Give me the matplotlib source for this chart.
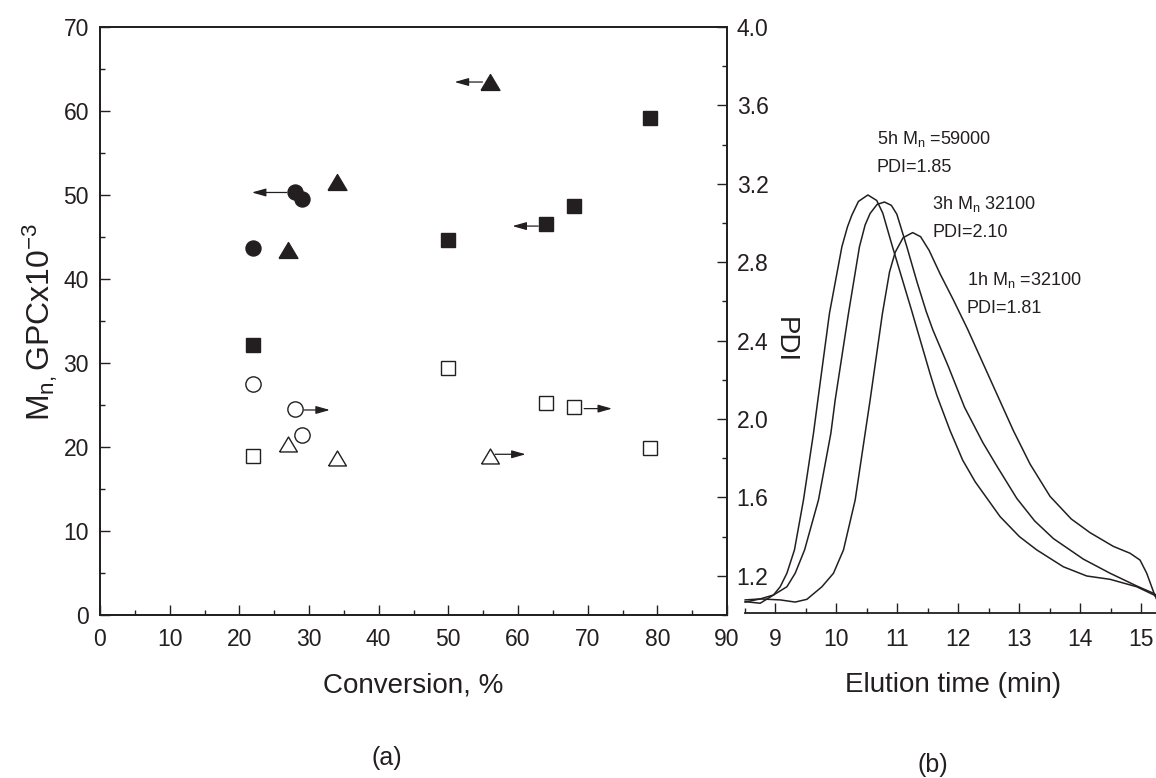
import numpy as np
import matplotlib
matplotlib.use("Agg")
import matplotlib.pyplot as plt
from matplotlib.ticker import MultipleLocator, FixedLocator, FormatStrFormatter

plt.rcParams["font.family"] = ["Liberation Sans", "DejaVu Sans"]
plt.rcParams["mathtext.fontset"] = "custom"
plt.rcParams["mathtext.rm"] = "Liberation Sans"
plt.rcParams["mathtext.it"] = "Liberation Sans:italic"
plt.rcParams["mathtext.bf"] = "Liberation Sans:bold"

# ---------------- data: panel (a) ----------------
conv_sq = [22, 50, 64, 68, 79]
mn_sq = [32.1, 44.6, 46.5, 48.7, 59.2]
pdi_sq = [1.81, 2.26, 2.08, 2.06, 1.85]

conv_ci = [22, 28, 29]
mn_ci = [43.7, 50.3, 49.5]
pdi_ci = [2.18, 2.05, 1.92]

conv_tr = [27, 34, 56]
mn_tr = [43.4, 51.5, 63.5]
pdi_tr = [1.87, 1.80, 1.81]

# arrows (tail x, head x, y) : left axis (Mn) and right axis (PDI)
arrow_mn_tail = [26.8, 54.9, 62.9]
arrow_mn_head = [21.8, 50.9, 59.2]
arrow_mn_y = [50.3, 63.45, 46.3]
arrow_pdi_tail = [29.3, 56.7, 69.5]
arrow_pdi_head = [33.0, 61.1, 73.5]
arrow_pdi_y = [2.046, 1.82, 2.053]

conv_ticks = list(range(0, 91, 10))
mn_ticks = list(range(0, 71, 10))
pdi_ticks = [1.2, 1.6, 2.0, 2.4, 2.8, 3.2, 3.6, 4.0]

# ---------------- data: panel (b) GPC traces ----------------
t_5h = [8.503, 8.749, 8.967, 9.077, 9.187, 9.311, 9.459, 9.623, 9.695, 9.885,
        10.089, 10.18, 10.252, 10.36, 10.515, 10.66, 10.76, 10.908, 11.236,
        11.32, 11.536, 11.646, 11.864, 12.07, 12.274, 12.683, 13.0, 13.285,
        13.721, 14.105, 14.487, 14.925, 15.208, 15.25]
s_5h = [1.068, 1.060, 1.102, 1.144, 1.213, 1.332, 1.587, 1.927, 2.097, 2.539,
        2.879, 2.98, 3.04, 3.11, 3.143, 3.115, 3.05, 2.89, 2.55,
        2.46, 2.23, 2.12, 1.94, 1.79, 1.68, 1.502, 1.40, 1.332,
        1.246, 1.199, 1.182, 1.144, 1.102, 1.09]

t_3h = [8.503, 8.749, 8.967, 9.187, 9.323, 9.477, 9.705, 9.908, 9.979, 10.197,
        10.377, 10.47, 10.552, 10.667, 10.787, 10.90, 10.99, 11.154, 11.32,
        11.47, 11.58, 11.836, 12.10, 12.40, 12.63, 12.957, 13.25, 13.557,
        14.049, 14.487, 14.925, 15.197, 15.25]
s_3h = [1.066, 1.082, 1.102, 1.144, 1.213, 1.332, 1.587, 1.927, 2.097, 2.539,
        2.879, 2.99, 3.049, 3.095, 3.107, 3.09, 3.045, 2.879, 2.70,
        2.55, 2.455, 2.267, 2.06, 1.88, 1.76, 1.595, 1.48, 1.39,
        1.285, 1.213, 1.148, 1.111, 1.10]

t_1h = [8.503, 8.749, 9.077, 9.323, 9.515, 9.761, 9.951, 10.115, 10.307, 10.470,
        10.552, 10.754, 10.87, 10.962, 11.093, 11.25, 11.38, 11.52, 11.70,
        11.918, 12.148, 12.438, 12.728, 12.902, 13.175, 13.503, 13.85, 14.159,
        14.541, 14.815, 14.979, 15.088, 15.208, 15.25]
s_1h = [1.077, 1.082, 1.077, 1.066, 1.080, 1.144, 1.213, 1.332, 1.587, 1.927,
        2.097, 2.539, 2.75, 2.85, 2.925, 2.951, 2.93, 2.86, 2.74,
        2.607, 2.46, 2.26, 2.06, 1.94, 1.77, 1.605, 1.49, 1.42,
        1.35, 1.315, 1.28, 1.213, 1.111, 1.08]

elution_ticks = [9, 10, 11, 12, 13, 14, 15]

# annotation texts
ann_5h = ["5h M$_\\mathrm{n}$ =59000", "PDI=1.85"]
ann_3h = ["3h M$_\\mathrm{n}$ 32100", "PDI=2.10"]
ann_1h = ["1h M$_\\mathrm{n}$ =32100", "PDI=1.81"]

# ---------------- figure ----------------
W, H = 1156, 778
fig = plt.figure(figsize=(W / 100, H / 100), dpi=100)
ink = "#231f20"

def fx(px):
    return px / W

def fy(py):
    return (H - py) / H

ax = fig.add_axes([fx(100), fy(615), (727 - 100) / W, (615 - 27) / H])
ax.set_xlim(0, 90)
ax.set_ylim(0, 70)
ax2 = ax.twinx()
ax2.set_ylim(1.0, 4.0)

for a in (ax, ax2):
    for sp in a.spines.values():
        sp.set_linewidth(1.3)
        sp.set_color(ink)

ax.xaxis.set_major_locator(FixedLocator(conv_ticks))
ax.xaxis.set_minor_locator(MultipleLocator(5))
ax.yaxis.set_major_locator(FixedLocator(mn_ticks))
ax.yaxis.set_minor_locator(MultipleLocator(5))
ax.tick_params(which="both", direction="in", top=False, right=False,
               colors=ink, labelsize=16.5, width=1.0)
ax.tick_params(which="major", length=7)
ax.tick_params(which="minor", length=3.5)
ax.tick_params(axis="x", which="both", pad=9)
ax.tick_params(axis="y", which="both", pad=8)

ax2.yaxis.set_major_locator(FixedLocator(pdi_ticks))
ax2.yaxis.set_minor_locator(MultipleLocator(0.2))
ax2.yaxis.set_major_formatter(FormatStrFormatter("%.1f"))
ax2.tick_params(which="both", direction="in", colors=ink, labelsize=16.5,
                width=1.0, pad=7)
ax2.tick_params(which="major", length=7)
ax2.tick_params(which="minor", length=3.5)

# triangle marker (slightly flattened, like the original)
tri = [(-1, -0.84), (1, -0.84), (0, 0.84), (-1, -0.84)]

mk = dict(linestyle="none", color=ink, markeredgecolor=ink, zorder=3)
ax.plot(conv_sq, mn_sq, marker="s", markersize=9.8, **mk)
ax.plot(conv_ci, mn_ci, marker="o", markersize=10.8, **mk)
ax.plot(conv_tr, mn_tr, marker=tri, markersize=13.6, **mk)

mko = dict(linestyle="none", markerfacecolor="white", markeredgecolor=ink,
           markeredgewidth=1.0, zorder=3)
ax2.plot(conv_sq, pdi_sq, marker="s", markersize=9.6, **mko)
ax2.plot(conv_ci, pdi_ci, marker="o", markersize=11, **mko)
ax2.plot(conv_tr, pdi_tr, marker=tri, markersize=12.8, **mko)

arrow_kw = dict(arrowstyle="-|>,head_length=0.6,head_width=0.17", lw=0.9,
                color=ink, shrinkA=0, shrinkB=0, mutation_scale=14)
for xt, xh, yy in zip(arrow_mn_tail, arrow_mn_head, arrow_mn_y):
    ax.annotate("", xy=(xh, yy), xytext=(xt, yy), arrowprops=arrow_kw, zorder=2)
for xt, xh, yy in zip(arrow_pdi_tail, arrow_pdi_head, arrow_pdi_y):
    ax2.annotate("", xy=(xh, yy), xytext=(xt, yy), arrowprops=arrow_kw, zorder=2)

# ---------------- panel (b) ----------------
axb = fig.add_axes([fx(745), fy(613), (1156.6 - 745) / W, (613 - 27) / H])
axb.set_facecolor("none")
axb.set_xlim(8.5, 15.25)
axb.set_ylim(1.0102, 4.0)
for s in ("top", "right", "left"):
    axb.spines[s].set_visible(False)
axb.spines["bottom"].set_linewidth(1.3)
axb.spines["bottom"].set_color(ink)
axb.set_yticks([])
axb.xaxis.set_major_locator(FixedLocator(elution_ticks))
axb.xaxis.set_minor_locator(MultipleLocator(0.5))
axb.tick_params(which="both", direction="in", colors=ink, labelsize=16.5,
                width=1.0, pad=11)
axb.tick_params(which="major", length=7)
axb.tick_params(which="minor", length=3.5)
for tt, ss in ((t_5h, s_5h), (t_3h, s_3h), (t_1h, s_1h)):
    axb.plot(tt, ss, color=ink, lw=1.1, clip_on=False,
             solid_joinstyle="round")

# ---------------- texts ----------------
fig.text(fx(50), fy(322), "M$_\\mathrm{n,}$GPCx10$^{-3}$", rotation=90,
         rotation_mode="anchor", ha="center", va="baseline", fontsize=23,
         color=ink)
fig.text(fx(778), fy(340), "PDI", rotation=270, rotation_mode="anchor",
         ha="center", va="baseline", fontsize=20, color=ink)
fig.text(fx(413), fy(692), "Conversion, %", ha="center", va="baseline",
         fontsize=20, color=ink)
fig.text(fx(953), fy(692), "Elution time (min)", ha="center", va="baseline",
         fontsize=20, color=ink)
fig.text(fx(387), fy(765), "(a)", ha="center", va="baseline", fontsize=18,
         color=ink)
fig.text(fx(933), fy(772), "(b)", ha="center", va="baseline", fontsize=18,
         color=ink)

for lines, x0, y0 in ((ann_5h, 877, 144), (ann_3h, 932, 209), (ann_1h, 967, 285)):
    fig.text(fx(x0), fy(y0), lines[0], ha="left", va="baseline", fontsize=13,
             color=ink)
    fig.text(fx(x0), fy(y0 + 28), lines[1], ha="left", va="baseline",
             fontsize=13, color=ink)

fig.savefig("out.png", dpi=100, facecolor="white")
